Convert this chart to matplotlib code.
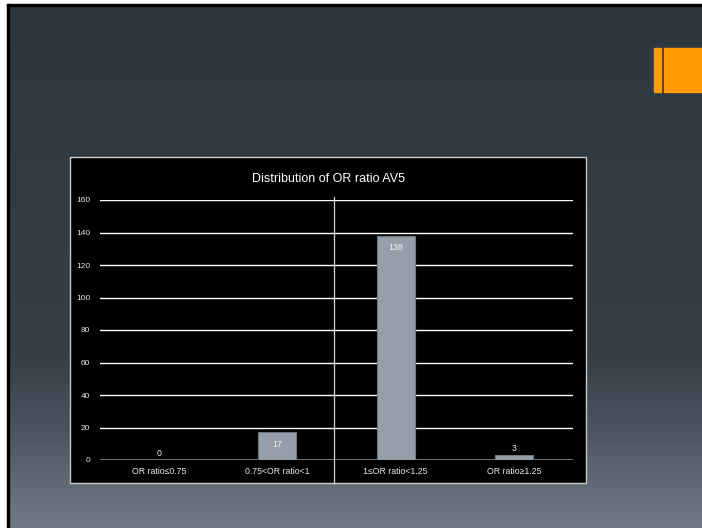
import numpy as np
import matplotlib

matplotlib.use("Agg")
import matplotlib.pyplot as plt
from matplotlib.patches import Rectangle

# Chart data
categories = ["OR ratio≤0.75", "0.75<OR ratio<1", "1≤OR ratio<1.25", "OR ratio≥1.25"]
counts = [0, 17, 138, 3]
y_ticks = [0, 20, 40, 60, 80, 100, 120, 140, 160]
title = "Distribution of OR ratio AV5"

W, H = 702, 528
BAR_COLOR = "#959faa"
BAR_EDGE = "#6c7580"
ORANGE = "#ff9a00"

plt.rcParams["font.family"] = ["Liberation Sans", "DejaVu Sans"]

fig = plt.figure(figsize=(W / 100, H / 100), dpi=100, facecolor="white")

# Slide background in pixel coordinates
bg = fig.add_axes([0, 0, 1, 1])
bg.set_xlim(0, W)
bg.set_ylim(H, 0)
bg.axis("off")

rows = np.arange(H)
stops_y = [0, 150, 350, 420, 470, 528]
stops_c = np.array([
    [0x2d, 0x37, 0x40],
    [0x30, 0x3b, 0x44],
    [0x34, 0x3f, 0x48],
    [0x47, 0x52, 0x5c],
    [0x5c, 0x66, 0x70],
    [0x71, 0x7b, 0x85],
]) / 255.0
grad = np.stack([np.interp(rows, stops_y, stops_c[:, i]) for i in range(3)], axis=-1)
grad = np.repeat(grad[:, None, :], 2, axis=1)
bg.imshow(grad, extent=[9, W, H, 6], aspect="auto", interpolation="bilinear", zorder=0)

# Thin black frame on left and top edges
bg.add_patch(Rectangle((7, 4), 2, H - 4, color="black", zorder=1))
bg.add_patch(Rectangle((7, 4), W - 7, 2, color="black", zorder=1))

# Orange accent, top right
bg.add_patch(Rectangle((654, 48), 7, 44, color=ORANGE, zorder=1))
bg.add_patch(Rectangle((664, 48), 40, 44, color=ORANGE, zorder=1))

# Chart panel
bg.add_patch(Rectangle((70, 157), 516, 326, facecolor="black",
                       edgecolor="#c8c8c8", linewidth=1.0, zorder=2))
bg.text(328, 179, title, color="white", fontsize=9, ha="center", va="center", zorder=3)

# Plot area: y=0 at px 460, y=160 at px 200, x from px 100 to 573
ax = fig.add_axes([100 / W, (H - 460) / H, 473 / W, 260 / H])
ax.set_facecolor("black")
ax.patch.set_alpha(0)
ax.set_xlim(-0.5, len(categories) - 0.5)
ax.set_ylim(0, 160)

for spine in ax.spines.values():
    spine.set_visible(False)

for t in y_ticks[1:]:
    ax.axhline(t, color="white", linewidth=1.0, zorder=1)
ax.axhline(0, color="#8a8a8a", linewidth=1.2, zorder=1)

# Divider between the low and high OR groups
ax.axvline(1.48, ymin=-0.0885, ymax=1.0115, color="#d8d8d8", linewidth=0.9,
           clip_on=False, zorder=2)

x = np.arange(len(categories))
ax.bar(x, counts, width=0.32, color=BAR_COLOR, edgecolor=BAR_EDGE,
       linewidth=0.8, zorder=3)

for xi, v in zip(x, counts):
    if v > 10:
        ax.annotate(str(v), (xi, v), xytext=(0, -8.5), textcoords="offset points",
                    ha="center", va="center", color="#f0f0f0", fontsize=6.3, zorder=4)
    else:
        ax.annotate(str(v), (xi, v), xytext=(0, 5), textcoords="offset points",
                    ha="center", va="center", color="#f0f0f0", fontsize=6.3, zorder=4)

ax.set_yticks(y_ticks)
ax.set_yticklabels([str(t) for t in y_ticks], fontsize=6, color="#e8e8e8")
ax.set_xticks(x)
ax.set_xticklabels(categories, fontsize=6.3, color="#e8e8e8")
ax.tick_params(axis="both", length=0)
ax.tick_params(axis="y", pad=7)
ax.tick_params(axis="x", pad=5)

fig.savefig("out.png", dpi=100, facecolor="white")
